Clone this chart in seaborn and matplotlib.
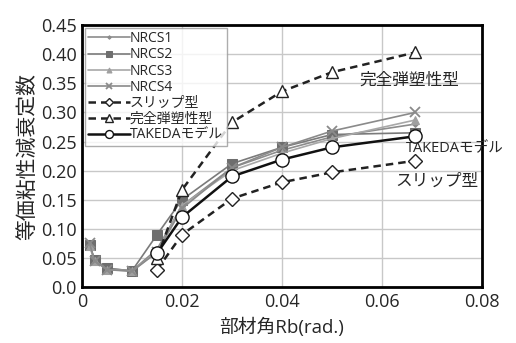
import matplotlib
matplotlib.use("Agg")
import matplotlib.pyplot as plt
import seaborn as sns
import pandas as pd

# Data
x_nrcs = [0.0015, 0.0025, 0.005, 0.01, 0.015, 0.02, 0.03, 0.04, 0.05, 0.0667]
nrcs1 = [0.075, 0.046, 0.032, 0.028, 0.065, 0.140, 0.205, 0.235, 0.258, 0.280]
nrcs2 = [0.072, 0.047, 0.032, 0.028, 0.090, 0.150, 0.212, 0.240, 0.262, 0.265]
nrcs3 = [0.070, 0.045, 0.030, 0.028, 0.060, 0.140, 0.200, 0.230, 0.255, 0.287]
nrcs4 = [0.075, 0.045, 0.030, 0.027, 0.060, 0.135, 0.205, 0.240, 0.268, 0.300]
x_model = [0.015, 0.02, 0.03, 0.04, 0.05, 0.0667]
slip = [0.030, 0.090, 0.152, 0.180, 0.197, 0.217]
elasto = [0.050, 0.167, 0.283, 0.336, 0.369, 0.403]
takeda = [0.058, 0.120, 0.190, 0.219, 0.240, 0.259]

labels = ["NRCS1", "NRCS2", "NRCS3", "NRCS4", "スリップ型", "完全弾塑性型", "TAKEDAモデル"]
xticks = [0, 0.02, 0.04, 0.06, 0.08]
xticklabels = ["0", "0.02", "0.04", "0.06", "0.08"]
yticks = [0, 0.05, 0.10, 0.15, 0.20, 0.25, 0.30, 0.35, 0.40, 0.45]
yticklabels = ["0.0", "0.05", "0.10", "0.15", "0.20", "0.25", "0.30", "0.35", "0.40", "0.45"]

sns.set_theme(style="white")
plt.rcParams['font.family'] = ['Open Sans', 'Noto Sans CJK JP', 'DejaVu Sans']

fig = plt.figure(figsize=(5.16, 3.43), dpi=100)
ax = fig.add_axes([0.159, 0.163, 0.775, 0.764])

styles = [
    (x_nrcs, nrcs1, dict(color="#8c8c8c", marker="D", markersize=3, linewidth=1.2, linestyle="-",
                         markerfacecolor="#8c8c8c", markeredgecolor="#8c8c8c")),
    (x_nrcs, nrcs2, dict(color="#7a7a7a", marker="s", markersize=7, linewidth=1.2, linestyle="-",
                         markerfacecolor="#6e6e6e", markeredgecolor="#6e6e6e")),
    (x_nrcs, nrcs3, dict(color="#a8a8a8", marker="^", markersize=6, linewidth=1.2, linestyle="-",
                         markerfacecolor="#a0a0a0", markeredgecolor="#a0a0a0")),
    (x_nrcs, nrcs4, dict(color="#8a8a8a", marker="x", markersize=7, linewidth=1.2, linestyle="-",
                         markeredgecolor="#8a8a8a", markeredgewidth=1.3)),
    (x_model, slip, dict(color="#222222", marker="D", markersize=7, linewidth=1.8, linestyle=(0, (3, 2)),
                         markerfacecolor="white", markeredgecolor="#222222", markeredgewidth=1.0)),
    (x_model, elasto, dict(color="#222222", marker="^", markersize=9, linewidth=1.8, linestyle=(0, (3, 2)),
                           markerfacecolor="white", markeredgecolor="#222222", markeredgewidth=1.0)),
    (x_model, takeda, dict(color="#111111", marker="o", markersize=9.5, linewidth=1.8, linestyle="-",
                           markerfacecolor="white", markeredgecolor="#111111", markeredgewidth=1.0)),
]

for (xs, ys, kw), lab in zip(styles, labels):
    df = pd.DataFrame({"x": xs, "y": ys})
    sns.lineplot(data=df, x="x", y="y", ax=ax, label=lab, sort=False, **kw)

ax.set_xlim(0, 0.08)
ax.set_ylim(0, 0.45)
ax.set_xticks(xticks)
ax.set_xticklabels(xticklabels, fontsize=13)
ax.set_yticks(yticks)
ax.set_yticklabels(yticklabels, fontsize=13)
ax.grid(True, color="#c8c8c8", linewidth=1.0)
ax.set_axisbelow(True)
for s in ax.spines.values():
    s.set_color("black")
    s.set_linewidth(2.0)
ax.tick_params(axis="both", direction="in", length=4, width=1.5, color="black", pad=4)

ax.set_xlabel("部材角Rb(rad.)", fontsize=13.5, labelpad=5)
ax.set_ylabel("等価粘性減衰定数", fontsize=15, labelpad=2)

leg = ax.legend(loc="upper left", fontsize=10, frameon=True, fancybox=False,
                borderpad=0.25, labelspacing=0.08, handlelength=3.0, handletextpad=0.0,
                borderaxespad=0.2, markerscale=0.6)
leg.get_frame().set_edgecolor("#999999")
leg.get_frame().set_linewidth(1.0)

ax.text(0.0555, 0.355, "完全弾塑性型", fontsize=12, ha="left", va="center")
ax.text(0.0648, 0.238, "TAKEDAモデル", fontsize=10.5, ha="left", va="center")
ax.text(0.0626, 0.181, "スリップ型", fontsize=12, ha="left", va="center")

fig.savefig("out.png", dpi=100)
